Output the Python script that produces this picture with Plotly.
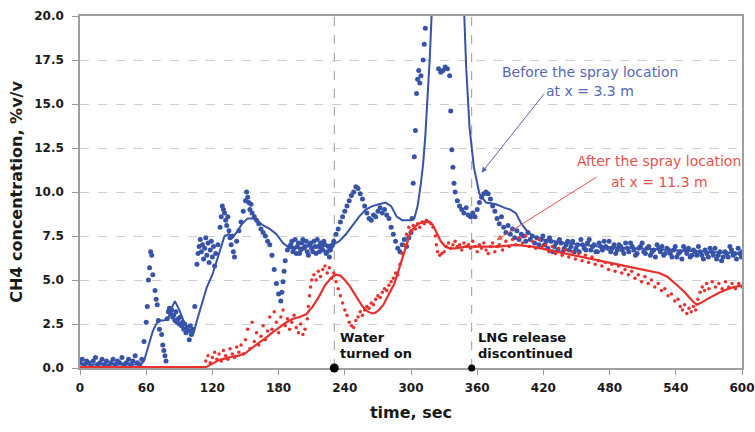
import plotly.graph_objects as go

# ---------------- data ----------------
# measured CH4 before the spray (x = 3.3 m)
blue_meas = [
    (0,0.3),(2,0.5),(4,0.2),(6,0.4),(8,0.3),(10,0.1),(12,0.4),(14,0.6),(16,0.2),(18,0.3),
    (20,0.5),(22,0.2),(24,0.4),(26,0.1),(28,0.3),(30,0.5),(32,0.2),(34,0.4),(36,0.3),(38,0.6),
    (40,0.2),(42,0.3),(44,0.5),(46,0.2),(48,0.4),(50,0.7),(52,0.3),(54,0.2),(56,0.5),(58,1.5),
    (60,2.6),(61,3.5),(62,5.0),(63,5.7),(64,6.6),(65,6.4),(66,5.3),(68,4.4),(69,3.9),(70,3.6),
    (71,2.7),(72,2.2),(74,1.9),(75,1.3),(76,1.0),(77,0.7),(78,0.4),(79,2.8),(80,3.2),(81,3.4),
    (82,3.1),(83,3.3),(84,2.9),(85,3.0),(86,2.7),(87,3.2),(88,2.6),(89,2.8),(90,2.5),(91,2.9),
    (92,2.4),(93,2.6),(94,2.2),(95,2.5),(96,2.0),(97,2.3),(98,2.1),(99,1.6),(100,2.4),(101,1.9),
    (102,2.2),(104,3.5),(106,5.9),(107,6.5),(108,6.9),(109,7.3),(110,6.6),(111,7.0),(112,6.2),
    (113,6.8),(114,7.4),(115,6.4),(116,7.1),(117,6.0),(118,6.7),(119,7.2),(120,6.3),(121,6.9),
    (122,5.8),(123,6.5),(125,7.0),(127,8.0),(128,8.6),(129,9.2),(130,9.0),(131,8.8),(132,8.4),
    (133,8.1),(134,8.6),(135,7.8),(136,7.4),(137,7.0),(138,7.5),(139,6.6),(140,6.3),(142,7.2),
    (144,7.8),(146,8.3),(148,8.9),(150,9.5),(151,10.0),(152,9.7),(153,9.4),(154,9.0),(155,9.3),
    (156,8.8),(158,8.6),(160,8.4),(162,8.2),(164,7.9),(166,7.7),(168,7.5),(170,7.2),(172,7.0),
    (174,6.4),(176,5.6),(178,4.8),(180,4.2),(182,3.8),(183,4.3),(184,4.9),(185,5.5),(186,6.1),
    (188,6.7),(190,6.9),(192,7.2),(194,6.8),(196,6.5),(198,7.1),(200,6.7),(202,7.3),(204,6.9),
    (206,6.6),(208,7.0),(210,6.8),(212,7.2),(214,6.5),(216,6.9),(218,7.1),(220,6.7),(222,7.0),
    (224,6.6),(226,6.3),(228,6.9),(230,7.2),(232,7.6),(234,7.9),(236,8.3),(238,8.6),(240,8.9),
    (242,9.2),(244,9.5),(246,9.8),(248,10.0),(250,10.3),(252,10.2),(254,9.9),(256,9.6),(258,9.2),
    (260,8.8),(262,8.5),(264,8.4),(266,8.7),(268,8.6),(270,8.9),(272,9.1),(274,8.8),(276,9.0),
    (278,8.7),(280,8.5),(282,8.0),(284,7.6),(286,7.2),(288,6.8),(290,6.6),(292,7.0),(294,7.3),
    (296,6.9),(298,7.4),(300,7.7),(301,8.5),(302,10.5),(303,12.0),(304,13.5),(305,15.6),
    (306,16.4),(307,16.9),(308,16.2),(309,16.6),(311,17.5),(312,18.4),(313,19.3),(314,20.4),
    (316,22.0),(320,24.0),(324,21.0),(325,17.0),(327,16.8),(329,16.9),(331,17.1),(333,17.0),
    (335,16.6),(336,14.6),(337,12.4),(338,11.4),(339,10.5),(340,10.0),(342,9.5),(344,9.2),
    (346,9.0),(348,8.8),(350,9.1),(352,8.7),(354,8.6),(356,8.8),(358,8.6),(360,9.0),(362,9.4),
    (364,9.7),(366,9.9),(368,10.0),(370,9.9),(372,9.6),(374,9.2),(376,8.9),(378,8.5),(380,8.2),
    (382,8.6),(384,8.0),(386,7.7),(388,8.1),(390,7.6),(392,7.9),(394,7.4),(396,7.8),(398,7.3),
    (400,7.6),(402,7.5),(404,7.2),(406,7.7),(408,7.3),(410,7.5),(412,7.1),(414,7.4),(416,7.0),
    (418,7.3),(421,7.0),(424,6.8),(427,7.2),(430,6.9),(433,6.7),(436,7.1),(439,6.8),(442,7.2),
    (445,6.9),(448,6.6),(451,7.0),(454,7.3),(457,6.8),(460,7.1),(463,6.7),(466,7.0),(469,6.6),
    (472,6.9),(475,7.2),(478,6.8),(481,6.6),(484,7.0),(487,6.7),(490,6.9),(493,6.5),(496,6.8),
    (499,7.1),(502,6.7),(505,6.5),(508,6.9),(511,6.6),(514,6.8),(517,6.4),(520,6.7),(523,7.0),
    (526,6.6),(529,6.4),(532,6.8),(535,6.5),(538,6.7),(541,6.3),(544,6.6),(547,6.9),(550,6.5),
    (553,6.3),(556,6.7),(559,6.4),(562,6.6),(565,6.2),(568,6.5),(571,6.8),(574,6.4),(577,6.2),
    (580,6.6),(583,6.3),(586,6.5),(589,6.9),(592,6.4),(595,6.2),(598,6.5),(600,6.6),
]
# further samples read in the dense stretches of the same series
blue_meas_dense = [
    (191,7.0),(193,6.6),(195,7.3),(197,6.9),(199,6.5),(201,7.1),(203,6.8),(205,7.2),(207,6.4),
    (209,7.1),(211,6.6),(213,6.9),(215,7.3),(217,6.6),(219,6.8),(221,7.2),(223,6.5),(225,6.9),
    (227,6.7),(229,7.0),
    (419.5,7.5),(422.5,7.2),(425.5,7.4),(428.5,6.6),(431.5,7.1),(434.5,7.3),(437.5,6.6),
    (440.5,7.0),(443.5,6.7),(446.5,7.2),(449.5,6.8),(452.5,6.6),(455.5,7.0),(458.5,6.7),
    (461.5,7.3),(464.5,6.9),(467.5,6.6),(470.5,7.1),(473.5,6.7),(476.5,6.9),(479.5,7.2),
    (482.5,6.8),(485.5,6.5),(488.5,7.0),(491.5,6.7),(494.5,7.1),(497.5,6.6),(500.5,6.9),
    (503.5,6.4),(506.5,6.8),(509.5,7.1),(512.5,6.5),(515.5,6.9),(518.5,6.6),(521.5,6.3),
    (524.5,6.8),(527.5,6.9),(530.5,6.5),(533.5,6.7),(536.5,6.3),(539.5,6.9),(542.5,6.5),
    (545.5,6.2),(548.5,6.7),(551.5,6.8),(554.5,6.4),(557.5,6.6),(560.5,6.9),(563.5,6.4),
    (566.5,6.7),(569.5,6.3),(572.5,6.6),(575.5,6.8),(578.5,6.4),(581.5,6.1),(584.5,6.6),
    (587.5,6.3),(590.5,6.7),(593.5,6.5),(596.5,6.8),(599.5,6.3),
]

# measured CH4 after the spray (x = 11.3 m)
red_meas = [
    (114,0.4),(116,0.7),(118,0.3),(120,0.6),(122,0.9),(124,0.5),(126,0.8),(128,0.4),(130,1.0),
    (132,0.7),(134,0.5),(136,1.1),(138,0.8),(140,0.6),(142,1.2),(144,0.9),(146,1.3),(148,0.8),
    (150,1.6),(152,2.2),(154,1.1),(156,2.6),(158,1.5),(160,2.0),(162,1.3),(164,1.8),(166,2.4),
    (168,1.6),(170,2.1),(172,2.9),(174,2.2),(176,3.2),(178,2.6),(180,2.0),(182,2.9),(184,3.3),
    (186,2.4),(188,2.8),(190,2.2),(192,2.6),(194,3.0),(196,2.3),(198,2.0),(200,2.5),(202,1.9),
    (204,2.2),(206,2.8),(207,3.5),(208,4.1),(209,4.6),(210,5.0),(212,5.3),(214,5.0),(216,5.5),
    (218,5.2),(220,5.6),(222,5.8),(224,5.4),(226,5.7),(228,5.1),(230,5.4),(232,4.9),(234,4.5),
    (236,4.1),(238,3.7),(240,3.3),(242,3.0),(244,2.6),(246,2.4),(248,2.3),(250,2.7),(252,2.9),
    (254,3.2),(256,3.0),(258,3.3),(260,3.5),(262,3.4),(264,3.7),(266,3.6),(268,3.9),(270,4.1),
    (272,4.0),(274,4.3),(276,4.5),(278,4.4),(280,4.7),(282,4.9),(284,5.1),(286,5.4),(288,5.3),
    (290,5.9),(292,6.5),(294,7.0),(296,7.6),(298,8.0),(300,7.8),(302,8.1),(304,7.9),(306,8.2),
    (308,8.0),(310,8.3),(312,8.2),(314,8.4),(316,8.3),(318,8.2),(320,8.0),(322,7.5),(323,7.0),
    (324,6.6),(326,6.4),(328,6.5),(330,6.6),(332,6.9),(334,7.1),(336,6.8),(338,7.0),(340,7.2),
    (342,6.9),(344,7.0),(346,6.7),(348,7.1),(350,6.9),(352,7.0),(354,6.8),(356,7.2),(358,6.9),
    (360,6.6),(362,7.0),(364,6.8),(366,7.1),(368,6.7),(370,6.5),(372,6.9),(374,7.1),(376,6.6),
    (378,6.9),(380,7.0),(383,6.7),(386,7.2),(389,6.9),(392,7.3),(395,7.0),(398,7.4),(401,7.1),
    (404,7.5),(407,6.9),(410,7.2),(413,6.8),(416,7.3),(419,6.9),(422,7.0),(425,6.6),(428,6.9),
    (431,6.5),(434,6.8),(437,6.4),(440,6.7),(443,6.3),(446,6.6),(449,6.2),(452,6.5),(455,6.1),
    (458,6.4),(461,6.0),(464,6.3),(467,5.9),(470,6.1),(473,5.8),(476,6.0),(479,5.6),(482,5.9),
    (485,5.5),(488,5.8),(491,5.4),(494,5.6),(497,5.3),(500,5.5),(503,5.1),(506,5.3),(509,4.9),
    (512,5.2),(515,4.8),(518,5.0),(521,4.6),(524,4.8),(527,4.4),(530,4.5),(533,4.1),(536,4.2),
    (539,3.8),(542,3.9),(544,3.5),(546,3.3),(548,3.6),(550,3.1),(552,3.4),(554,3.2),(556,3.5),
    (558,3.3),(560,3.9),(562,4.3),(564,4.6),(566,4.4),(568,4.8),(570,4.5),(573,4.9),(576,4.6),
    (579,4.8),(582,4.5),(585,4.9),(588,4.6),(591,4.8),(594,4.5),(597,4.8),(600,4.6),
]

# model curves
blue_model_t = [0, 20, 40, 55, 58, 62, 66, 69, 72, 76, 80, 83, 86, 90, 95, 100, 103, 106, 110,
                115, 120, 125, 131, 135, 138, 142, 147, 152, 156, 160, 166, 172, 178, 184, 190,
                198, 205, 212, 220, 229, 235, 241, 247, 253, 259, 265, 271, 277, 282, 287, 292,
                296, 300, 303, 306, 309, 311, 313, 315, 317, 319, 322, 327, 333, 340, 345, 348,
                350, 353, 357, 362, 368, 377, 385, 390, 395, 400, 405, 410, 420, 440, 470, 500,
                530, 560, 600]
blue_model_v = [0.2, 0.2, 0.2, 0.2, 0.4, 1.3, 2.1, 2.5, 2.7, 2.7, 2.8, 3.4, 3.8, 3.3, 2.5, 2.1,
                2.0, 2.7, 3.6, 4.6, 5.3, 6.3, 7.5, 7.6, 7.4, 7.7, 8.2, 8.5, 8.5, 8.4, 8.1, 7.9,
                7.6, 7.1, 6.8, 6.8, 6.9, 6.9, 7.0, 7.0, 7.2, 7.6, 8.1, 8.6, 9.0, 9.2, 9.3, 9.4,
                9.2, 8.6, 8.4, 8.4, 8.4, 8.5, 9.2, 10.5, 11.6, 13.2, 15.2, 17.6, 20.5, 24.0,
                28.0, 29.0, 26.0, 23.0, 20.5, 17.1, 13.7, 11.4, 9.9, 9.4, 9.3, 9.1, 9.0, 8.8,
                8.2, 7.8, 7.5, 7.3, 7.1, 6.9, 6.8, 6.7, 6.6, 6.5]

red_model_t = [0, 50, 100, 114, 120, 126, 132, 138, 144, 150, 156, 162, 168, 174, 180, 187, 193,
               199, 205, 211, 217, 222, 226, 229, 232, 236, 240, 244, 248, 252, 256, 261, 265,
               268, 271, 275, 280, 285, 290, 295, 299, 303, 307, 311, 317, 320, 323, 327, 331,
               335, 340, 350, 360, 370, 380, 395, 410, 425, 441, 456, 471, 486, 501, 515, 525,
               532, 538, 543, 548, 552, 556, 559, 563, 568, 574, 580, 590, 600]
red_model_v = [0.05, 0.05, 0.05, 0.05, 0.25, 0.45, 0.55, 0.65, 0.7, 0.85, 1.15, 1.4, 1.7, 2.0,
               2.3, 2.6, 2.8, 2.9, 3.05, 3.5, 4.1, 4.7, 5.0, 5.2, 5.3, 5.25, 5.0, 4.7, 4.3, 3.9,
               3.5, 3.2, 3.1, 3.15, 3.3, 3.6, 4.2, 4.8, 5.8, 6.8, 7.6, 8.0, 8.2, 8.3, 8.3, 8.1,
               7.7, 7.2, 6.9, 6.8, 6.8, 6.9, 6.9, 6.9, 6.9, 7.0, 6.9, 6.7, 6.5, 6.3, 6.1, 5.9,
               5.7, 5.55, 5.4, 5.2, 4.9, 4.6, 4.3, 4.0, 3.75, 3.6, 3.7, 3.9, 4.1, 4.3, 4.55, 4.7]

event_t = [230.5, 355]
event_dot_px = [4.5, 3.5]
event_labels = [["Water", "turned on"], ["LNG release", "discontinued"]]
x_ticks = [0, 60, 120, 180, 240, 300, 360, 420, 480, 540, 600]

BLUE = "#3753a8"
RED = "#e8302c"
BLUE_TXT = "#5668b6"
RED_TXT = "#e9514b"
FONT = "DejaVu Sans"

blue_all = blue_meas + blue_meas_dense

fig = go.Figure()

fig.add_trace(go.Scatter(x=blue_model_t, y=blue_model_v, mode="lines",
                         line=dict(color=BLUE, width=2), showlegend=False))
fig.add_trace(go.Scatter(
    x=[p[0] for p in blue_all], y=[p[1] for p in blue_all], mode="markers",
    marker=dict(color=BLUE, size=5, symbol="circle"), showlegend=False))
fig.add_trace(go.Scatter(
    x=[p[0] for p in red_meas], y=[p[1] for p in red_meas], mode="markers",
    marker=dict(color=RED, size=3.5, symbol="circle"), showlegend=False))
fig.add_trace(go.Scatter(x=red_model_t, y=red_model_v, mode="lines",
                         line=dict(color=RED, width=2.2), showlegend=False))

for t, r in zip(event_t, event_dot_px):
    fig.add_shape(type="line", x0=t, x1=t, y0=0, y1=20, xref="x", yref="y",
                  line=dict(color="#9a9a9a", width=1, dash="dash"), layer="below")
    fig.add_shape(type="circle", xref="x", yref="paper", xsizemode="pixel", ysizemode="pixel",
                  xanchor=t, yanchor=0, x0=-r, x1=r, y0=-r, y1=r,
                  fillcolor="black", line=dict(color="black", width=0), layer="above")

annos = []
for t, (l1, l2) in zip(event_t, event_labels):
    for txt, y in ((l1, 1.72), (l2, 0.82)):
        annos.append(dict(x=t + 3.5, y=y, xref="x", yref="y", text=txt, showarrow=False,
                          xanchor="left", yanchor="middle",
                          font=dict(family=FONT, size=13, color="#111", weight="bold")))

for txt, y in (("Before the spray location", 16.82), ("at x = 3.3 m", 15.74)):
    annos.append(dict(x=462, y=y, xref="x", yref="y", text=txt, showarrow=False,
                      xanchor="center", yanchor="middle",
                      font=dict(family=FONT, size=14, color=BLUE_TXT)))
for txt, y in (("After the spray location", 11.76), ("at x = 11.3 m", 10.57)):
    annos.append(dict(x=525, y=y, xref="x", yref="y", text=txt, showarrow=False,
                      xanchor="center", yanchor="middle",
                      font=dict(family=FONT, size=14, color=RED_TXT)))

annos.append(dict(x=364, y=11.1, ax=421.5, ay=15.64, xref="x", yref="y", axref="x", ayref="y",
                  text="", showarrow=True, arrowhead=2, arrowsize=1.1, arrowwidth=1,
                  arrowcolor=BLUE_TXT, standoff=0))
annos.append(dict(x=377.7, y=7.27, ax=469.5, ay=10.9, xref="x", yref="y", axref="x", ayref="y",
                  text="", showarrow=True, arrowhead=2, arrowsize=1.1, arrowwidth=1,
                  arrowcolor=RED_TXT, standoff=0))

tickfont = dict(family=FONT, size=12, color="#1a1a1a", weight="bold")
titlefont = dict(family=FONT, size=16, color="#1a1a1a", weight="bold")

fig.update_layout(
    width=755, height=432,
    margin=dict(l=80, r=13, t=16, b=64),
    paper_bgcolor="white", plot_bgcolor="white",
    annotations=annos,
    xaxis=dict(range=[0, 600], tickvals=x_ticks, ticks="outside", ticklen=5,
               tickcolor="#9a9a9a", showline=True, linecolor="#a0a0a0", linewidth=2,
               mirror=True, showgrid=False, zeroline=False, tickfont=tickfont,
               ticklabelstandoff=3, automargin="bottom",
               title=dict(text="time, sec", font=titlefont, standoff=12)),
    yaxis=dict(range=[0, 20], dtick=2.5, tickformat=".1f", ticks="outside", ticklen=6,
               tickcolor="#9a9a9a", showline=True, linecolor="#a0a0a0", linewidth=1.5,
               mirror=True, showgrid=True, gridcolor="#cfcfcf", griddash="dash",
               gridwidth=1, zeroline=False, tickfont=tickfont, ticklabelstandoff=6,
               automargin="left",
               title=dict(text="CH4 concentration, %v/v", font=titlefont, standoff=8)),
)

fig.write_html("out.html")
